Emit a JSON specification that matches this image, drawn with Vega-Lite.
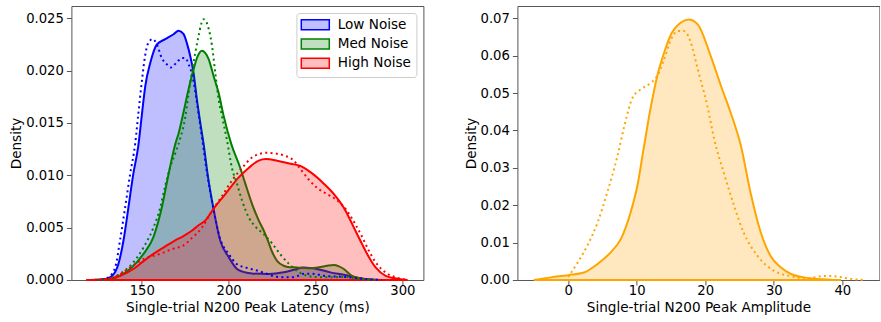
{
  "$schema": "https://vega.github.io/schema/vega-lite/v6.json",
  "padding": {"left": 8.4, "top": 5, "right": 0, "bottom": 0},
  "background": "white",
  "config": {
    "font": "DejaVu Sans",
    "view": {"stroke": "#555555", "strokeWidth": 1},
    "axis": {"domain": false, "grid": false, "tickColor": "#555555", "tickSize": 5, "labelPadding": 3, "labelFontSize": 13.2, "labelColor": "#000000", "titleFontSize": 13.6, "titleFontWeight": "normal", "titleColor": "#000000", "labelFont": "DejaVu Sans", "titleFont": "DejaVu Sans", "labelFlush": false},
    "axisY": {"titlePadding": 2},
    "axisX": {"titlePadding": 3, "labelPadding": 0},
    "legend": {"orient": "top-right", "offset": 7, "fillColor": "white", "strokeColor": "#cccccc", "cornerRadius": 3, "padding": 5, "labelFontSize": 13.6, "labelFont": "DejaVu Sans", "labelColor": "#000000", "labelOffset": 15.6, "symbolOffset": 7.1, "symbolType": "M-2.8,-1H2.8V1H-2.8Z", "symbolSize": 100, "rowPadding": 2.25, "symbolStrokeWidth": 1.5}
  },
  "spacing": 39,
  "resolve": {"scale": {"fill": "independent", "stroke": "independent"}, "legend": {"fill": "independent", "stroke": "independent"}},
  "datasets": {
    "latency": [
      {"series": "Low Noise", "style": "solid", "x": 120, "y": 0},
      {"series": "Low Noise", "style": "solid", "x": 125, "y": 0.00002},
      {"series": "Low Noise", "style": "solid", "x": 129, "y": 0.0001},
      {"series": "Low Noise", "style": "solid", "x": 133, "y": 0.0004},
      {"series": "Low Noise", "style": "solid", "x": 136.5, "y": 0.0015},
      {"series": "Low Noise", "style": "solid", "x": 139.5, "y": 0.0038},
      {"series": "Low Noise", "style": "solid", "x": 142.3, "y": 0.0069},
      {"series": "Low Noise", "style": "solid", "x": 145, "y": 0.0100},
      {"series": "Low Noise", "style": "solid", "x": 148, "y": 0.0128},
      {"series": "Low Noise", "style": "solid", "x": 150, "y": 0.0157},
      {"series": "Low Noise", "style": "solid", "x": 152, "y": 0.0185},
      {"series": "Low Noise", "style": "solid", "x": 155, "y": 0.0208},
      {"series": "Low Noise", "style": "solid", "x": 158.7, "y": 0.0225},
      {"series": "Low Noise", "style": "solid", "x": 163.5, "y": 0.0230},
      {"series": "Low Noise", "style": "solid", "x": 168.3, "y": 0.02347},
      {"series": "Low Noise", "style": "solid", "x": 171.2, "y": 0.0238},
      {"series": "Low Noise", "style": "solid", "x": 174, "y": 0.0235},
      {"series": "Low Noise", "style": "solid", "x": 176, "y": 0.0226},
      {"series": "Low Noise", "style": "solid", "x": 177.9, "y": 0.0214},
      {"series": "Low Noise", "style": "solid", "x": 179.8, "y": 0.0198},
      {"series": "Low Noise", "style": "solid", "x": 181.7, "y": 0.0173},
      {"series": "Low Noise", "style": "solid", "x": 183.7, "y": 0.0150},
      {"series": "Low Noise", "style": "solid", "x": 185.6, "y": 0.0130},
      {"series": "Low Noise", "style": "solid", "x": 188, "y": 0.0100},
      {"series": "Low Noise", "style": "solid", "x": 191.3, "y": 0.0068},
      {"series": "Low Noise", "style": "solid", "x": 195.2, "y": 0.00375},
      {"series": "Low Noise", "style": "solid", "x": 200, "y": 0.0022},
      {"series": "Low Noise", "style": "solid", "x": 204.8, "y": 0.00105},
      {"series": "Low Noise", "style": "solid", "x": 208, "y": 0.0008},
      {"series": "Low Noise", "style": "solid", "x": 213.4, "y": 0.00063},
      {"series": "Low Noise", "style": "solid", "x": 223, "y": 0.00057},
      {"series": "Low Noise", "style": "solid", "x": 231.7, "y": 0.00073},
      {"series": "Low Noise", "style": "solid", "x": 238, "y": 0.001},
      {"series": "Low Noise", "style": "solid", "x": 243.3, "y": 0.0012},
      {"series": "Low Noise", "style": "solid", "x": 250.9, "y": 0.00105},
      {"series": "Low Noise", "style": "solid", "x": 258.6, "y": 0.00073},
      {"series": "Low Noise", "style": "solid", "x": 266.3, "y": 0.0005},
      {"series": "Low Noise", "style": "solid", "x": 275, "y": 0.0002},
      {"series": "Low Noise", "style": "solid", "x": 282, "y": 0.00005},
      {"series": "Low Noise", "style": "solid", "x": 288, "y": 0},
      {"series": "Low Noise", "style": "dotted", "x": 124, "y": 0},
      {"series": "Low Noise", "style": "dotted", "x": 127, "y": 0.00003},
      {"series": "Low Noise", "style": "dotted", "x": 130.8, "y": 0.00025},
      {"series": "Low Noise", "style": "dotted", "x": 134.7, "y": 0.0012},
      {"series": "Low Noise", "style": "dotted", "x": 137.5, "y": 0.0038},
      {"series": "Low Noise", "style": "dotted", "x": 140.4, "y": 0.0069},
      {"series": "Low Noise", "style": "dotted", "x": 143.3, "y": 0.0101},
      {"series": "Low Noise", "style": "dotted", "x": 146.2, "y": 0.0130},
      {"series": "Low Noise", "style": "dotted", "x": 148.1, "y": 0.0160},
      {"series": "Low Noise", "style": "dotted", "x": 150, "y": 0.0189},
      {"series": "Low Noise", "style": "dotted", "x": 151.9, "y": 0.0214},
      {"series": "Low Noise", "style": "dotted", "x": 153.9, "y": 0.0227},
      {"series": "Low Noise", "style": "dotted", "x": 156.3, "y": 0.0230},
      {"series": "Low Noise", "style": "dotted", "x": 158.7, "y": 0.0225},
      {"series": "Low Noise", "style": "dotted", "x": 161.5, "y": 0.0212},
      {"series": "Low Noise", "style": "dotted", "x": 164.4, "y": 0.0206},
      {"series": "Low Noise", "style": "dotted", "x": 166.7, "y": 0.0203},
      {"series": "Low Noise", "style": "dotted", "x": 170.2, "y": 0.0208},
      {"series": "Low Noise", "style": "dotted", "x": 173.1, "y": 0.0212},
      {"series": "Low Noise", "style": "dotted", "x": 175, "y": 0.0212},
      {"series": "Low Noise", "style": "dotted", "x": 177, "y": 0.0206},
      {"series": "Low Noise", "style": "dotted", "x": 179, "y": 0.0196},
      {"series": "Low Noise", "style": "dotted", "x": 181, "y": 0.0178},
      {"series": "Low Noise", "style": "dotted", "x": 183, "y": 0.0155},
      {"series": "Low Noise", "style": "dotted", "x": 185, "y": 0.0132},
      {"series": "Low Noise", "style": "dotted", "x": 187.5, "y": 0.0103},
      {"series": "Low Noise", "style": "dotted", "x": 191, "y": 0.0070},
      {"series": "Low Noise", "style": "dotted", "x": 195, "y": 0.0040},
      {"series": "Low Noise", "style": "dotted", "x": 200, "y": 0.0025},
      {"series": "Low Noise", "style": "dotted", "x": 204.8, "y": 0.0015},
      {"series": "Low Noise", "style": "dotted", "x": 209.6, "y": 0.0012},
      {"series": "Low Noise", "style": "dotted", "x": 216.3, "y": 0.0009},
      {"series": "Low Noise", "style": "dotted", "x": 222, "y": 0.0006},
      {"series": "Low Noise", "style": "dotted", "x": 228, "y": 0.0003},
      {"series": "Low Noise", "style": "dotted", "x": 235.6, "y": 0.00025},
      {"series": "Low Noise", "style": "dotted", "x": 240, "y": 0.0004},
      {"series": "Low Noise", "style": "dotted", "x": 243.3, "y": 0.0006},
      {"series": "Low Noise", "style": "dotted", "x": 248, "y": 0.0006},
      {"series": "Low Noise", "style": "dotted", "x": 254.8, "y": 0.0004},
      {"series": "Low Noise", "style": "dotted", "x": 266.3, "y": 0.0003},
      {"series": "Low Noise", "style": "dotted", "x": 278, "y": 0.0001},
      {"series": "Low Noise", "style": "dotted", "x": 288, "y": 0},
      {"series": "Med Noise", "style": "solid", "x": 124, "y": 0},
      {"series": "Med Noise", "style": "solid", "x": 128, "y": 0.00003},
      {"series": "Med Noise", "style": "solid", "x": 132.7, "y": 0.0001},
      {"series": "Med Noise", "style": "solid", "x": 137.5, "y": 0.0004},
      {"series": "Med Noise", "style": "solid", "x": 144.2, "y": 0.0012},
      {"series": "Med Noise", "style": "solid", "x": 151, "y": 0.0025},
      {"series": "Med Noise", "style": "solid", "x": 156.7, "y": 0.0041},
      {"series": "Med Noise", "style": "solid", "x": 161.5, "y": 0.0069},
      {"series": "Med Noise", "style": "solid", "x": 165.4, "y": 0.0101},
      {"series": "Med Noise", "style": "solid", "x": 169.5, "y": 0.0131},
      {"series": "Med Noise", "style": "solid", "x": 171.2, "y": 0.0140},
      {"series": "Med Noise", "style": "solid", "x": 174, "y": 0.0160},
      {"series": "Med Noise", "style": "solid", "x": 176.9, "y": 0.0182},
      {"series": "Med Noise", "style": "solid", "x": 179.8, "y": 0.0201},
      {"series": "Med Noise", "style": "solid", "x": 182, "y": 0.0213},
      {"series": "Med Noise", "style": "solid", "x": 184.6, "y": 0.0219},
      {"series": "Med Noise", "style": "solid", "x": 186.5, "y": 0.0217},
      {"series": "Med Noise", "style": "solid", "x": 188.5, "y": 0.0211},
      {"series": "Med Noise", "style": "solid", "x": 191.3, "y": 0.0195},
      {"series": "Med Noise", "style": "solid", "x": 194.2, "y": 0.0179},
      {"series": "Med Noise", "style": "solid", "x": 197.1, "y": 0.0157},
      {"series": "Med Noise", "style": "solid", "x": 201.5, "y": 0.0130},
      {"series": "Med Noise", "style": "solid", "x": 206.7, "y": 0.0107},
      {"series": "Med Noise", "style": "solid", "x": 209.6, "y": 0.0092},
      {"series": "Med Noise", "style": "solid", "x": 213.4, "y": 0.0073},
      {"series": "Med Noise", "style": "solid", "x": 217.3, "y": 0.0057},
      {"series": "Med Noise", "style": "solid", "x": 220, "y": 0.0048},
      {"series": "Med Noise", "style": "solid", "x": 222.5, "y": 0.0038},
      {"series": "Med Noise", "style": "solid", "x": 225, "y": 0.0027},
      {"series": "Med Noise", "style": "solid", "x": 228, "y": 0.0018},
      {"series": "Med Noise", "style": "solid", "x": 231.7, "y": 0.00136},
      {"series": "Med Noise", "style": "solid", "x": 235, "y": 0.00122},
      {"series": "Med Noise", "style": "solid", "x": 239.4, "y": 0.0012},
      {"series": "Med Noise", "style": "solid", "x": 245, "y": 0.00112},
      {"series": "Med Noise", "style": "solid", "x": 249, "y": 0.00115},
      {"series": "Med Noise", "style": "solid", "x": 253, "y": 0.00125},
      {"series": "Med Noise", "style": "solid", "x": 256.7, "y": 0.00136},
      {"series": "Med Noise", "style": "solid", "x": 260.6, "y": 0.00143},
      {"series": "Med Noise", "style": "solid", "x": 263.5, "y": 0.0013},
      {"series": "Med Noise", "style": "solid", "x": 266.3, "y": 0.00105},
      {"series": "Med Noise", "style": "solid", "x": 271, "y": 0.0004},
      {"series": "Med Noise", "style": "solid", "x": 278, "y": 0.0001},
      {"series": "Med Noise", "style": "solid", "x": 285, "y": 0},
      {"series": "Med Noise", "style": "dotted", "x": 124, "y": 0},
      {"series": "Med Noise", "style": "dotted", "x": 128, "y": 0.00003},
      {"series": "Med Noise", "style": "dotted", "x": 131.7, "y": 0.0001},
      {"series": "Med Noise", "style": "dotted", "x": 137.5, "y": 0.0006},
      {"series": "Med Noise", "style": "dotted", "x": 144.2, "y": 0.0015},
      {"series": "Med Noise", "style": "dotted", "x": 151, "y": 0.0031},
      {"series": "Med Noise", "style": "dotted", "x": 156.7, "y": 0.0050},
      {"series": "Med Noise", "style": "dotted", "x": 160.6, "y": 0.0069},
      {"series": "Med Noise", "style": "dotted", "x": 163.5, "y": 0.0090},
      {"series": "Med Noise", "style": "dotted", "x": 166.4, "y": 0.0108},
      {"series": "Med Noise", "style": "dotted", "x": 169.5, "y": 0.0122},
      {"series": "Med Noise", "style": "dotted", "x": 172.1, "y": 0.0135},
      {"series": "Med Noise", "style": "dotted", "x": 175, "y": 0.0155},
      {"series": "Med Noise", "style": "dotted", "x": 176.9, "y": 0.0177},
      {"series": "Med Noise", "style": "dotted", "x": 178.8, "y": 0.0198},
      {"series": "Med Noise", "style": "dotted", "x": 180.8, "y": 0.0217},
      {"series": "Med Noise", "style": "dotted", "x": 182.7, "y": 0.0233},
      {"series": "Med Noise", "style": "dotted", "x": 184.3, "y": 0.0245},
      {"series": "Med Noise", "style": "dotted", "x": 185.6, "y": 0.0249},
      {"series": "Med Noise", "style": "dotted", "x": 187, "y": 0.0247},
      {"series": "Med Noise", "style": "dotted", "x": 188.5, "y": 0.0240},
      {"series": "Med Noise", "style": "dotted", "x": 190.4, "y": 0.0224},
      {"series": "Med Noise", "style": "dotted", "x": 192.3, "y": 0.0198},
      {"series": "Med Noise", "style": "dotted", "x": 194.2, "y": 0.0173},
      {"series": "Med Noise", "style": "dotted", "x": 196.1, "y": 0.0157},
      {"series": "Med Noise", "style": "dotted", "x": 199, "y": 0.0134},
      {"series": "Med Noise", "style": "dotted", "x": 201.9, "y": 0.0107},
      {"series": "Med Noise", "style": "dotted", "x": 204.8, "y": 0.0092},
      {"series": "Med Noise", "style": "dotted", "x": 207.7, "y": 0.0076},
      {"series": "Med Noise", "style": "dotted", "x": 211.5, "y": 0.0060},
      {"series": "Med Noise", "style": "dotted", "x": 215.4, "y": 0.0051},
      {"series": "Med Noise", "style": "dotted", "x": 220, "y": 0.0044},
      {"series": "Med Noise", "style": "dotted", "x": 225, "y": 0.0035},
      {"series": "Med Noise", "style": "dotted", "x": 230, "y": 0.0024},
      {"series": "Med Noise", "style": "dotted", "x": 235, "y": 0.0015},
      {"series": "Med Noise", "style": "dotted", "x": 241, "y": 0.0007},
      {"series": "Med Noise", "style": "dotted", "x": 249, "y": 0.0003},
      {"series": "Med Noise", "style": "dotted", "x": 258.7, "y": 0.00025},
      {"series": "Med Noise", "style": "dotted", "x": 266.3, "y": 0.0003},
      {"series": "Med Noise", "style": "dotted", "x": 275, "y": 0.0001},
      {"series": "Med Noise", "style": "dotted", "x": 285, "y": 0},
      {"series": "High Noise", "style": "solid", "x": 118, "y": 0},
      {"series": "High Noise", "style": "solid", "x": 125, "y": 0.00003},
      {"series": "High Noise", "style": "solid", "x": 129.8, "y": 0.0001},
      {"series": "High Noise", "style": "solid", "x": 137.5, "y": 0.0004},
      {"series": "High Noise", "style": "solid", "x": 145.2, "y": 0.00105},
      {"series": "High Noise", "style": "solid", "x": 151, "y": 0.0018},
      {"series": "High Noise", "style": "solid", "x": 156.7, "y": 0.0025},
      {"series": "High Noise", "style": "solid", "x": 162.5, "y": 0.0031},
      {"series": "High Noise", "style": "solid", "x": 168.3, "y": 0.0037},
      {"series": "High Noise", "style": "solid", "x": 174, "y": 0.0042},
      {"series": "High Noise", "style": "solid", "x": 178.8, "y": 0.0047},
      {"series": "High Noise", "style": "solid", "x": 182.5, "y": 0.0052},
      {"series": "High Noise", "style": "solid", "x": 186.6, "y": 0.0057},
      {"series": "High Noise", "style": "solid", "x": 191.3, "y": 0.0068},
      {"series": "High Noise", "style": "solid", "x": 198.1, "y": 0.0082},
      {"series": "High Noise", "style": "solid", "x": 205.8, "y": 0.0098},
      {"series": "High Noise", "style": "solid", "x": 211.5, "y": 0.0107},
      {"series": "High Noise", "style": "solid", "x": 217.3, "y": 0.0114},
      {"series": "High Noise", "style": "solid", "x": 221.5, "y": 0.01155},
      {"series": "High Noise", "style": "solid", "x": 227.9, "y": 0.0114},
      {"series": "High Noise", "style": "solid", "x": 235.6, "y": 0.0111},
      {"series": "High Noise", "style": "solid", "x": 241.3, "y": 0.0109},
      {"series": "High Noise", "style": "solid", "x": 247.1, "y": 0.0103},
      {"series": "High Noise", "style": "solid", "x": 254.8, "y": 0.0092},
      {"series": "High Noise", "style": "solid", "x": 260.6, "y": 0.0082},
      {"series": "High Noise", "style": "solid", "x": 263.4, "y": 0.0076},
      {"series": "High Noise", "style": "solid", "x": 266.3, "y": 0.0069},
      {"series": "High Noise", "style": "solid", "x": 269.2, "y": 0.0060},
      {"series": "High Noise", "style": "solid", "x": 273, "y": 0.0047},
      {"series": "High Noise", "style": "solid", "x": 276.9, "y": 0.0034},
      {"series": "High Noise", "style": "solid", "x": 280.7, "y": 0.0022},
      {"series": "High Noise", "style": "solid", "x": 284.6, "y": 0.0012},
      {"series": "High Noise", "style": "solid", "x": 290.4, "y": 0.0004},
      {"series": "High Noise", "style": "solid", "x": 298, "y": 0.0001},
      {"series": "High Noise", "style": "solid", "x": 303, "y": 0},
      {"series": "High Noise", "style": "dotted", "x": 120, "y": 0},
      {"series": "High Noise", "style": "dotted", "x": 130, "y": 0.0001},
      {"series": "High Noise", "style": "dotted", "x": 137, "y": 0.0005},
      {"series": "High Noise", "style": "dotted", "x": 143.3, "y": 0.0012},
      {"series": "High Noise", "style": "dotted", "x": 151, "y": 0.0020},
      {"series": "High Noise", "style": "dotted", "x": 160.6, "y": 0.0025},
      {"series": "High Noise", "style": "dotted", "x": 168.3, "y": 0.0030},
      {"series": "High Noise", "style": "dotted", "x": 174, "y": 0.0033},
      {"series": "High Noise", "style": "dotted", "x": 178.8, "y": 0.0040},
      {"series": "High Noise", "style": "dotted", "x": 184.6, "y": 0.0050},
      {"series": "High Noise", "style": "dotted", "x": 190.4, "y": 0.0066},
      {"series": "High Noise", "style": "dotted", "x": 196.1, "y": 0.0080},
      {"series": "High Noise", "style": "dotted", "x": 201.9, "y": 0.0095},
      {"series": "High Noise", "style": "dotted", "x": 207.7, "y": 0.0107},
      {"series": "High Noise", "style": "dotted", "x": 213.4, "y": 0.0117},
      {"series": "High Noise", "style": "dotted", "x": 219.2, "y": 0.0121},
      {"series": "High Noise", "style": "dotted", "x": 222, "y": 0.01215},
      {"series": "High Noise", "style": "dotted", "x": 226, "y": 0.0121},
      {"series": "High Noise", "style": "dotted", "x": 231.7, "y": 0.0119},
      {"series": "High Noise", "style": "dotted", "x": 237.5, "y": 0.0114},
      {"series": "High Noise", "style": "dotted", "x": 241.3, "y": 0.0106},
      {"series": "High Noise", "style": "dotted", "x": 246.1, "y": 0.0096},
      {"series": "High Noise", "style": "dotted", "x": 250.9, "y": 0.0088},
      {"series": "High Noise", "style": "dotted", "x": 256.7, "y": 0.0082},
      {"series": "High Noise", "style": "dotted", "x": 262.5, "y": 0.0076},
      {"series": "High Noise", "style": "dotted", "x": 268.2, "y": 0.0066},
      {"series": "High Noise", "style": "dotted", "x": 273, "y": 0.0053},
      {"series": "High Noise", "style": "dotted", "x": 276.9, "y": 0.0041},
      {"series": "High Noise", "style": "dotted", "x": 280.7, "y": 0.0028},
      {"series": "High Noise", "style": "dotted", "x": 284.6, "y": 0.0017},
      {"series": "High Noise", "style": "dotted", "x": 290.4, "y": 0.0007},
      {"series": "High Noise", "style": "dotted", "x": 296.2, "y": 0.00025},
      {"series": "High Noise", "style": "dotted", "x": 303, "y": 0}
    ],
    "amplitude": [
      {"style": "solid", "x": -5, "y": 0},
      {"style": "solid", "x": -2.5, "y": 0.0007},
      {"style": "solid", "x": 0, "y": 0.0013},
      {"style": "solid", "x": 2.3, "y": 0.0020},
      {"style": "solid", "x": 4.3, "y": 0.0043},
      {"style": "solid", "x": 6.2, "y": 0.0074},
      {"style": "solid", "x": 7.7, "y": 0.0110},
      {"style": "solid", "x": 9.1, "y": 0.0180},
      {"style": "solid", "x": 10.1, "y": 0.0252},
      {"style": "solid", "x": 11, "y": 0.0350},
      {"style": "solid", "x": 12, "y": 0.0457},
      {"style": "solid", "x": 13, "y": 0.0546},
      {"style": "solid", "x": 14, "y": 0.0608},
      {"style": "solid", "x": 14.9, "y": 0.0653},
      {"style": "solid", "x": 16.4, "y": 0.0688},
      {"style": "solid", "x": 17.6, "y": 0.0697},
      {"style": "solid", "x": 18.9, "y": 0.0684},
      {"style": "solid", "x": 20.8, "y": 0.0599},
      {"style": "solid", "x": 22.3, "y": 0.0519},
      {"style": "solid", "x": 23.7, "y": 0.0448},
      {"style": "solid", "x": 25.2, "y": 0.0359},
      {"style": "solid", "x": 26.6, "y": 0.0234},
      {"style": "solid", "x": 28.1, "y": 0.0127},
      {"style": "solid", "x": 29.5, "y": 0.0065},
      {"style": "solid", "x": 31, "y": 0.0034},
      {"style": "solid", "x": 32.5, "y": 0.0016},
      {"style": "solid", "x": 34.4, "y": 0.0007},
      {"style": "solid", "x": 36.4, "y": 0.0003},
      {"style": "solid", "x": 39.8, "y": 0},
      {"style": "dotted", "x": 0, "y": 0.0008},
      {"style": "dotted", "x": 1.4, "y": 0.0047},
      {"style": "dotted", "x": 2.8, "y": 0.0092},
      {"style": "dotted", "x": 4.3, "y": 0.0154},
      {"style": "dotted", "x": 5.7, "y": 0.0234},
      {"style": "dotted", "x": 7.2, "y": 0.0332},
      {"style": "dotted", "x": 8.2, "y": 0.0412},
      {"style": "dotted", "x": 9.4, "y": 0.0488},
      {"style": "dotted", "x": 10.6, "y": 0.0510},
      {"style": "dotted", "x": 12.1, "y": 0.0528},
      {"style": "dotted", "x": 13, "y": 0.0546},
      {"style": "dotted", "x": 14, "y": 0.0590},
      {"style": "dotted", "x": 15, "y": 0.0644},
      {"style": "dotted", "x": 16, "y": 0.0666},
      {"style": "dotted", "x": 16.9, "y": 0.0666},
      {"style": "dotted", "x": 17.9, "y": 0.0635},
      {"style": "dotted", "x": 18.9, "y": 0.0564},
      {"style": "dotted", "x": 20.3, "y": 0.0466},
      {"style": "dotted", "x": 21.3, "y": 0.0377},
      {"style": "dotted", "x": 22.7, "y": 0.0287},
      {"style": "dotted", "x": 24.2, "y": 0.0199},
      {"style": "dotted", "x": 25.6, "y": 0.0127},
      {"style": "dotted", "x": 27.6, "y": 0.0065},
      {"style": "dotted", "x": 30, "y": 0.0025},
      {"style": "dotted", "x": 32.5, "y": 0.0010},
      {"style": "dotted", "x": 34.9, "y": 0.0004},
      {"style": "dotted", "x": 37.3, "y": 0.0011},
      {"style": "dotted", "x": 38.8, "y": 0.0010},
      {"style": "dotted", "x": 41.2, "y": 0.0003},
      {"style": "dotted", "x": 43, "y": 0}
    ]
  },
  "hconcat": [
    {
      "width": 352,
      "height": 274,
      "data": {"name": "latency"},
      "encoding": {
        "x": {
          "field": "x", "type": "quantitative",
          "scale": {"domain": [109.5, 312.1], "nice": false, "zero": false},
          "axis": {"values": [150, 200, 250, 300], "title": "Single-trial N200 Peak Latency (ms)"}
        },
        "y": {
          "field": "y", "type": "quantitative",
          "scale": {"domain": [0, 0.02617], "nice": false, "zero": false},
          "axis": {"values": [0, 0.005, 0.01, 0.015, 0.02, 0.025], "format": ".3f", "title": "Density"}
        }
      },
      "layer": [
        {
          "transform": [{"filter": "datum.series === 'Low Noise' && datum.style === 'solid'"}],
          "mark": {"type": "area", "interpolate": "monotone", "fillOpacity": 0.25, "strokeWidth": 2},
          "encoding": {
            "fill": {
              "field": "series", "type": "nominal",
              "scale": {"domain": ["Low Noise", "Med Noise", "High Noise"], "range": ["#0000ff", "#008000", "#ff0000"]},
              "legend": {
                "title": null, "orient": "top-right",
                "encode": {"symbols": {"update": {"fillOpacity": {"value": 0.25}, "opacity": {"value": 1}}}}
              }
            },
            "stroke": {
              "field": "series", "type": "nominal",
              "scale": {"domain": ["Low Noise", "Med Noise", "High Noise"], "range": ["#0000ff", "#008000", "#ff0000"]},
              "legend": {
                "title": null, "orient": "top-right",
                "encode": {"symbols": {"update": {"fillOpacity": {"value": 0.25}, "opacity": {"value": 1}}}}
              }
            }
          }
        },
        {
          "transform": [{"filter": "datum.series === 'Med Noise' && datum.style === 'solid'"}],
          "mark": {"type": "area", "interpolate": "monotone", "fillOpacity": 0.25, "strokeWidth": 2},
          "encoding": {
            "fill": {"field": "series", "type": "nominal"},
            "stroke": {"field": "series", "type": "nominal"}
          }
        },
        {
          "transform": [{"filter": "datum.series === 'High Noise' && datum.style === 'solid'"}],
          "mark": {"type": "area", "interpolate": "monotone", "fillOpacity": 0.25, "strokeWidth": 2},
          "encoding": {
            "fill": {"field": "series", "type": "nominal"},
            "stroke": {"field": "series", "type": "nominal"}
          }
        },
        {
          "transform": [{"filter": "datum.series === 'Low Noise' && datum.style === 'dotted'"}],
          "mark": {"type": "line", "interpolate": "monotone", "stroke": "#0000ff", "strokeWidth": 2, "strokeDash": [2, 3.3]},
          "encoding": {}
        },
        {
          "transform": [{"filter": "datum.series === 'Med Noise' && datum.style === 'dotted'"}],
          "mark": {"type": "line", "interpolate": "monotone", "stroke": "#008000", "strokeWidth": 2, "strokeDash": [2, 3.3]},
          "encoding": {}
        },
        {
          "transform": [{"filter": "datum.series === 'High Noise' && datum.style === 'dotted'"}],
          "mark": {"type": "line", "interpolate": "monotone", "stroke": "#ff0000", "strokeWidth": 2, "strokeDash": [2, 3.3]},
          "encoding": {}
        }
      ]
    },
    {
      "width": 362,
      "height": 274,
      "data": {"name": "amplitude"},
      "encoding": {
        "x": {
          "field": "x", "type": "quantitative",
          "scale": {"domain": [-7.4, 45.4], "nice": false, "zero": false},
          "axis": {"values": [0, 10, 20, 30, 40], "title": "Single-trial N200 Peak Amplitude"}
        },
        "y": {
          "field": "y", "type": "quantitative",
          "scale": {"domain": [0, 0.0733], "nice": false, "zero": false},
          "axis": {"values": [0, 0.01, 0.02, 0.03, 0.04, 0.05, 0.06, 0.07], "format": ".2f", "title": "Density"}
        }
      },
      "layer": [
        {
          "transform": [{"filter": "datum.style === 'solid'"}],
          "mark": {"type": "area", "interpolate": "monotone", "fill": "#ffa500", "fillOpacity": 0.25, "stroke": "#ffa500", "strokeWidth": 2},
          "encoding": {}
        },
        {
          "transform": [{"filter": "datum.style === 'dotted'"}],
          "mark": {"type": "line", "interpolate": "monotone", "stroke": "#ffa500", "strokeWidth": 2, "strokeDash": [2, 3.3]},
          "encoding": {}
        }
      ]
    }
  ]
}
